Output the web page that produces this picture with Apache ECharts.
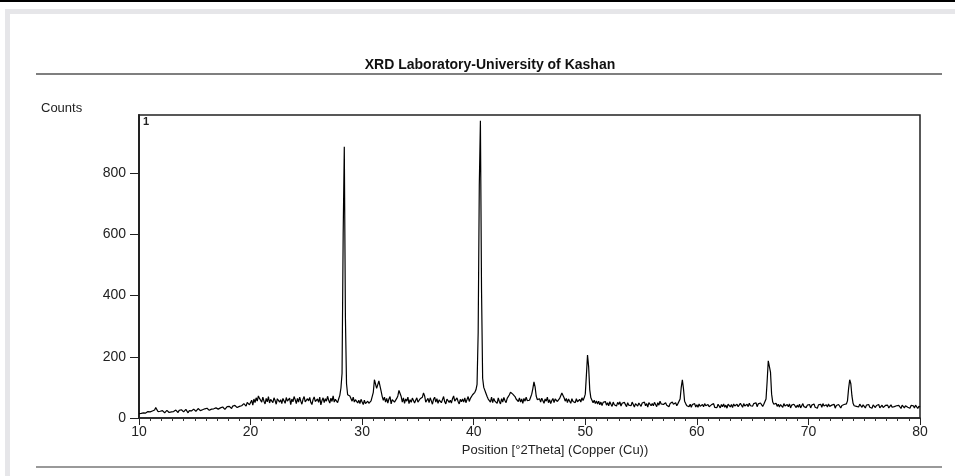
<!DOCTYPE html>
<html><head><meta charset="utf-8">
<script src="https://cdn.jsdelivr.net/npm/echarts@6/dist/echarts.min.js"></script>
<style>html,body{margin:0;padding:0;background:#fff}#c{width:955px;height:476px}</style>
</head><body><div id="c"></div>
<script>
const chartTitle = 'XRD Laboratory-University of Kashan';
const xAxisName = 'Position [°2Theta] (Copper (Cu))';
const yAxisName = 'Counts';
const patternLabel = '1';
const yTickValues = [0, 200, 400, 600, 800];
const angleStep = 0.1;
// counts at 0.1 °2Theta step, one array per decade (start angle in name)
const counts10 = [14,18,15,20,17,22,16,19,21,18, 20,17,23,19,26,34,28,21,18,22, 19,24,20,17,22,25,21,18,23,20, 24,21,19,26,22,18,25,23,27,21, 20,25,28,22,17,24,27,23,26,29, 25,22,28,31,26,24,29,27,23,30, 28,32,27,25,31,29,34,30,27,33, 31,29,35,33,30,36,32,28,34,37, 33,38,35,31,39,36,41,37,34,40, 38,44,40,36,47,42,39,51,45,43];
const counts20 = [46,58,42,62,50,66,55,72,64,58, 52,68,55,46,64,53,70,49,61,56, 50,66,57,45,63,69,52,60,47,64, 58,48,67,55,51,65,44,62,53,70, 60,47,64,52,68,55,45,61,70,53, 49,63,56,67,51,44,60,69,54,48, 62,51,68,43,57,66,50,63,55,71, 58,49,65,54,72,52,61,67,50,63, 74,98,146,600,886,330,112,76,82,72, 66,55,68,52,60,64,49,58,47,61];
const counts30 = [52,44,58,47,42,55,48,45,56,60, 84,125,130,97,102,121,118,88,70,58, 68,52,64,49,62,70,46,60,66,52, 50,64,72,90,95,70,52,66,48,62, 55,68,47,60,51,65,70,49,58,66, 52,46,63,57,68,82,72,52,48,64, 50,66,56,45,61,68,52,63,48,59, 64,50,60,70,53,46,62,67,51,58, 49,63,72,55,50,66,54,46,61,53, 62,52,66,50,60,70,54,64,68,76];
const counts40 = [78,84,92,110,280,760,971,420,130,100, 98,80,70,62,66,52,68,50,64,55, 60,48,66,54,46,63,52,67,57,50, 64,70,76,84,86,78,80,70,62,58, 54,66,52,62,48,64,55,68,57,63, 58,68,78,96,118,102,72,60,54,63, 52,65,56,48,62,55,68,50,60,47, 57,64,50,62,67,54,49,64,68,82, 84,66,55,64,50,62,55,48,63,54, 60,50,63,53,48,61,52,66,57,66];
const counts50 = [78,140,206,168,92,66,60,50,58,47, 56,46,55,43,52,41,51,45,54,42, 50,40,53,45,38,52,43,49,39,51, 44,53,39,48,42,51,45,37,50,42, 48,40,52,44,36,47,50,39,49,43, 38,49,43,52,40,47,36,50,44,40, 47,40,51,44,37,50,42,55,46,40, 44,38,50,42,48,37,47,41,52,45, 42,50,40,47,53,62,100,125,96,55, 47,40,46,37,45,35,44,39,47,36];
const counts60 = [43,35,46,38,33,44,37,47,40,35, 44,37,32,43,39,47,35,41,34,45, 40,33,44,37,46,35,42,32,45,39, 36,44,34,46,39,33,45,37,42,48, 42,35,47,39,34,45,37,48,40,46, 39,47,41,50,37,46,40,49,43,38, 45,50,62,120,187,182,150,78,52,45, 40,48,38,45,36,44,40,35,47,39, 34,44,37,46,33,42,36,45,39,34, 42,35,45,33,40,47,37,43,34,42];
const counts70 = [37,44,33,42,38,46,35,41,32,43, 38,45,35,47,39,33,43,36,46,38, 34,42,37,45,32,41,35,44,38,33, 41,35,44,38,46,56,96,125,112,72, 48,40,46,38,44,36,45,40,35,43, 38,33,42,36,44,35,41,32,43,37, 34,41,36,44,33,39,42,34,38,41, 36,42,33,39,43,35,41,37,32,40, 35,41,36,31,42,37,33,40,43,35, 38,32,41,35,40,33,42,36,31,38, 36];

const segments = [[10, counts10],[20, counts20],[30, counts30],[40, counts40],[50, counts50],[60, counts60],[70, counts70]];
const seriesData = [];
segments.forEach(([start, arr]) => {
  arr.forEach((v, i) => seriesData.push([Math.round((start + i * angleStep) * 10) / 10, v]));
});

const FONT = '"Liberation Sans", Arial, sans-serif';
const chart = echarts.init(document.getElementById('c'), null, {renderer: 'canvas'});
chart.setOption({
  backgroundColor: '#ffffff',
  animation: false,
  title: {
    text: chartTitle, left: 490, top: 58, textAlign: 'center', padding: 0,
    textStyle: {fontFamily: FONT, fontSize: 14, fontWeight: 'bold', color: '#111'}
  },
  graphic: [
    {type: 'rect', left: 0, top: 0, shape: {width: 955, height: 2}, style: {fill: '#000'}},
    {type: 'rect', left: 5, top: 9, shape: {width: 950, height: 5}, style: {fill: '#e6e6e9'}},
    {type: 'rect', left: 5, top: 9, shape: {width: 5, height: 467}, style: {fill: '#e6e6e9'}},
    {type: 'line', shape: {x1: 36, y1: 74, x2: 942, y2: 74}, style: {stroke: '#555', lineWidth: 1.5}},
    {type: 'line', shape: {x1: 36, y1: 467, x2: 942, y2: 467}, style: {stroke: '#777', lineWidth: 1.5}},
    {type: 'text', left: 41, top: 102, style: {text: yAxisName, font: '13px ' + FONT, fill: '#222'}},
    {type: 'text', left: 143, top: 116, style: {text: patternLabel, font: 'bold 11px ' + FONT, fill: '#222'}}
  ],
  grid: {left: 139, right: 35, top: 115, bottom: 58, show: true, borderColor: '#222', borderWidth: 1.5, backgroundColor: '#fff'},
  xAxis: {
    type: 'value', min: 10, max: 80, interval: 10,
    name: xAxisName, nameLocation: 'middle', nameGap: 22,
    nameTextStyle: {fontFamily: FONT, fontSize: 13, color: '#222', padding: [0, 0, 0, 51]},
    axisLine: {show: true, lineStyle: {color: '#222', width: 1.5}},
    axisTick: {show: true, inside: false, length: 7, lineStyle: {color: '#222', width: 1}},
    minorTick: {show: true, splitNumber: 10, length: 3, lineStyle: {color: '#333', width: 1}},
    splitLine: {show: false},
    axisLabel: {fontFamily: FONT, fontSize: 14, color: '#222', margin: 7}
  },
  yAxis: {
    type: 'value', min: 0, max: 990,
    axisLine: {show: true, lineStyle: {color: '#222', width: 2}},
    axisTick: {show: true, inside: false, length: 9, customValues: yTickValues, lineStyle: {color: '#222', width: 1}},
    axisLabel: {fontFamily: FONT, fontSize: 14, color: '#222', margin: 13, customValues: yTickValues},
    splitLine: {show: false}
  },
  series: [{
    type: 'line', data: seriesData, showSymbol: false, symbol: 'none',
    lineStyle: {color: '#000', width: 1.2}, z: 3
  }]
});
</script></body></html>
